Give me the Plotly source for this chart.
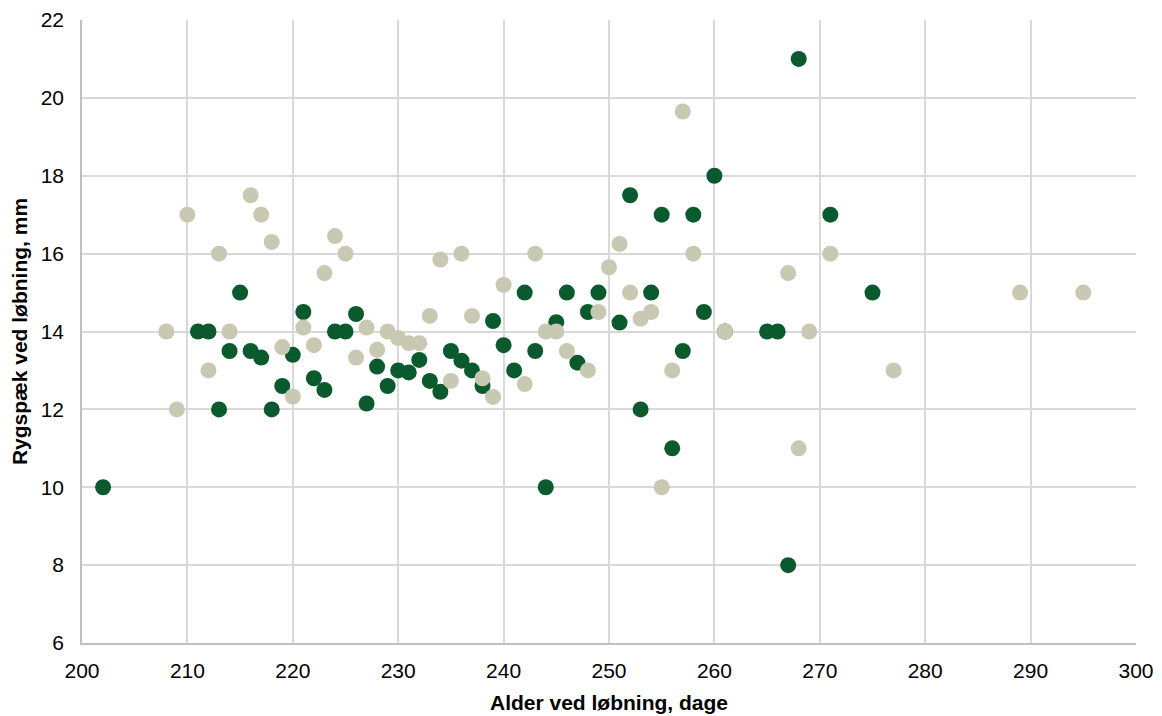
import plotly.graph_objects as go

# Series 1 (dark green)
dark_x = [202, 211, 212, 213, 214, 215, 216, 217, 218, 219, 220, 221, 222, 223, 224, 225, 226, 227, 228, 229,
          230, 231, 232, 233, 234, 235, 236, 237, 238, 239, 240, 241, 242, 243, 244, 245, 246, 247, 248, 249,
          251, 252, 253, 254, 255, 256, 257, 258, 259, 260, 261, 265, 266, 267, 268, 271, 275]
dark_y = [10, 14, 14, 12, 13.5, 15, 13.5, 13.33, 12, 12.6, 13.4, 14.5, 12.8, 12.5, 14, 14, 14.45, 12.15, 13.1, 12.6,
          13, 12.95, 13.27, 12.73, 12.45, 13.5, 13.25, 13, 12.6, 14.27, 13.65, 13, 15, 13.5, 10, 14.24, 15, 13.2, 14.5, 15,
          14.23, 17.5, 12, 15, 17, 11, 13.5, 17, 14.5, 18, 14, 14, 14, 8, 21, 17, 15]

# Series 2 (beige)
beige_x = [208, 209, 210, 212, 213, 214, 216, 217, 218, 219, 220, 221, 222, 223, 224, 225, 226, 227, 228, 229,
           230, 231, 232, 233, 234, 235, 236, 237, 238, 239, 240, 242, 243, 244, 245, 246, 248, 249, 250, 251,
           252, 253, 254, 255, 256, 257, 258, 261, 267, 268, 269, 271, 277, 289, 295]
beige_y = [14, 12, 17, 13, 16, 14, 17.5, 17, 16.3, 13.6, 12.33, 14.1, 13.65, 15.5, 16.45, 16, 13.33, 14.1, 13.53, 14,
           13.83, 13.7, 13.7, 14.4, 15.85, 12.73, 16, 14.4, 12.8, 12.32, 15.2, 12.65, 16, 14, 14, 13.5, 13, 14.5, 15.65, 16.25,
           15, 14.33, 14.5, 10, 13, 19.65, 16, 14, 15.5, 11, 14, 16, 13, 15, 15]

x_ticks = [200, 210, 220, 230, 240, 250, 260, 270, 280, 290, 300]
y_ticks = [6, 8, 10, 12, 14, 16, 18, 20, 22]

x_title = "Alder ved løbning, dage"
y_title = "Rygspæk ved løbning, mm"

fig = go.Figure()
fig.add_trace(go.Scatter(x=dark_x, y=dark_y, mode="markers",
                         marker=dict(color="#0b5a2e", size=16, line=dict(width=0)),
                         showlegend=False))
fig.add_trace(go.Scatter(x=beige_x, y=beige_y, mode="markers",
                         marker=dict(color="#c9c8b3", size=16, line=dict(width=0)),
                         showlegend=False))

font = "Liberation Sans, Arial, sans-serif"
# page body has an 8px margin, so the figure is offset by 8px
fig.update_layout(
    width=1154, height=708,
    margin=dict(l=74, r=26, t=12, b=73, autoexpand=False),
    paper_bgcolor="white", plot_bgcolor="white",
    font=dict(family=font, size=21, color="#000000"),
)
fig.update_xaxes(range=[200, 300], tickvals=x_ticks, ticktext=[str(v) for v in x_ticks],
                 showgrid=True, gridcolor="#d9d9d9", gridwidth=1.5,
                 showline=True, linecolor="#bfbfbf", linewidth=1.5,
                 zeroline=False, ticks="", ticklabelstandoff=8, automargin=False,
                 title=dict(text="<b>" + x_title + "</b>", font=dict(size=21), standoff=14))
fig.update_yaxes(range=[6, 22], tickvals=y_ticks, ticktext=[str(v) for v in y_ticks],
                 showgrid=True, gridcolor="#d9d9d9", gridwidth=1.5,
                 showline=True, linecolor="#bfbfbf", linewidth=1.5,
                 zeroline=False, ticks="", ticklabelstandoff=12, automargin=False,
                 title=dict(text="<b>" + y_title + "</b>", font=dict(size=21), standoff=8))

fig.write_html("out.html")
